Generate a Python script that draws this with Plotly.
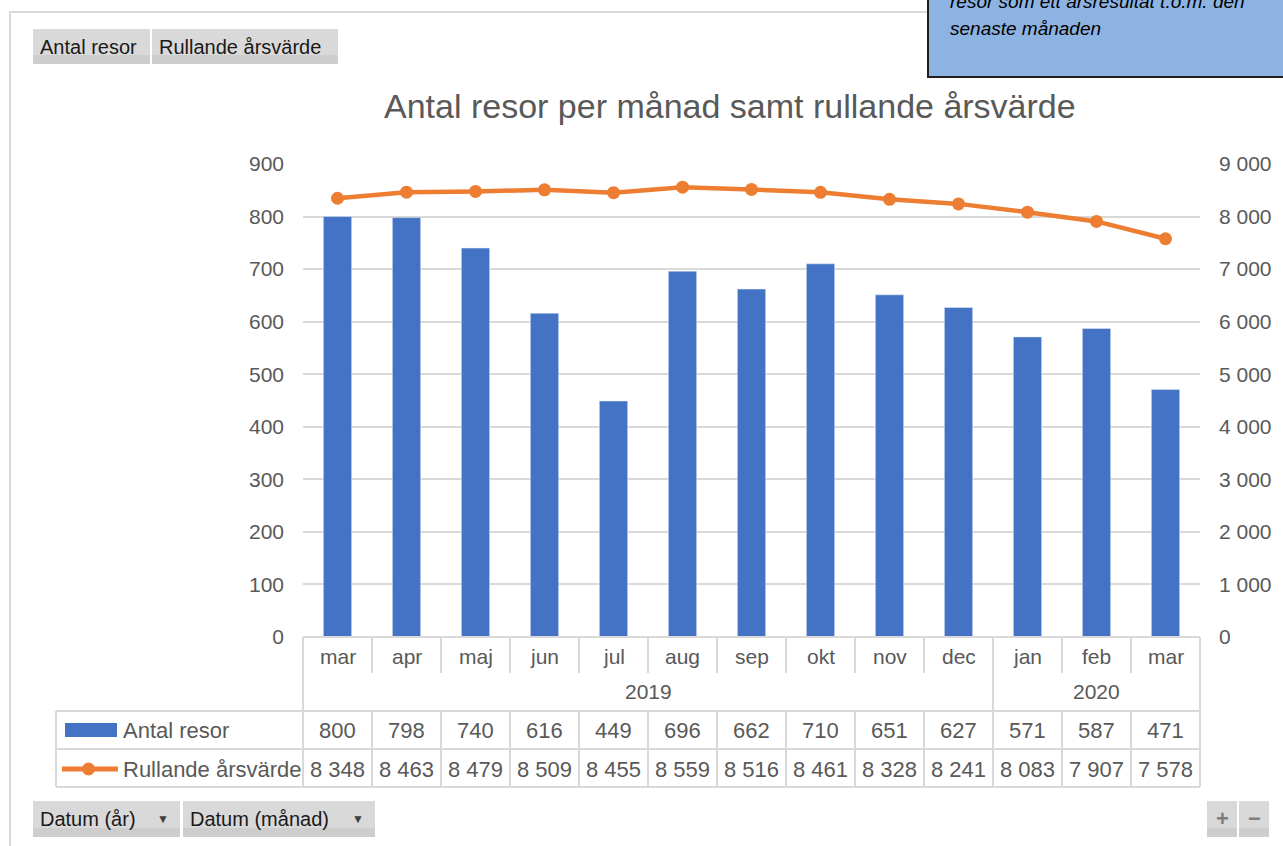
import plotly.graph_objects as go

# data
year_labels = ["2019", "2020"]
year_counts = [10, 3]
months = ["mar", "apr", "maj", "jun", "jul", "aug", "sep", "okt", "nov", "dec", "jan", "feb", "mar"]
antal_resor = [800, 798, 740, 616, 449, 696, 662, 710, 651, 627, 571, 587, 471]
rullande = [8348, 8463, 8479, 8509, 8455, 8559, 8516, 8461, 8328, 8241, 8083, 7907, 7578]

W, H = 1283, 846
L, R, T, B = 303, 1200, 164, 637   # plot area in pixels
FONT = "Liberation Sans"
GREY = "#595959"
LINE = "#d9d9d9"


def px(x):
    return (x - L) / (R - L)


def py(y):
    return (B - y) / (B - T)


def sp(v):
    return f"{v:,}".replace(",", " ")


n = len(months)
xs = list(range(n))

fig = go.Figure()
fig.add_trace(go.Bar(x=xs, y=antal_resor, name="Antal resor", marker_color="#4472C4",
                     width=0.41, yaxis="y"))
fig.add_trace(go.Scatter(x=xs, y=rullande, name="Rullande årsvärde", yaxis="y2",
                         mode="lines+markers", line=dict(color="#ED7D31", width=4.5),
                         marker=dict(size=13, color="#ED7D31")))

shapes = []
ann = []


def hline(x0, x1, y, color=LINE, w=2):
    shapes.append(dict(type="line", xref="paper", yref="paper", x0=px(x0), x1=px(x1),
                       y0=py(y), y1=py(y), line=dict(color=color, width=w)))


def vline(x, y0, y1, color=LINE, w=2):
    shapes.append(dict(type="line", xref="paper", yref="paper", x0=x, x1=x,
                       y0=py(y0), y1=py(y1), line=dict(color=color, width=w)))


def rect(x0, y0, x1, y1, fill, line_color=None, w=0, layer="above"):
    shapes.append(dict(type="rect", xref="paper", yref="paper", x0=px(x0), x1=px(x1),
                       y0=py(y0), y1=py(y1), fillcolor=fill, layer=layer,
                       line=dict(color=line_color or fill, width=w)))


def text(x, y, s, size=22, color=GREY, xanchor="center", italic=False, font=FONT):
    ann.append(dict(xref="paper", yref="paper", x=px(x), y=py(y), text=s, showarrow=False,
                    xanchor=xanchor, yanchor="middle",
                    font=dict(family=font, size=size, color=color,
                              style="italic" if italic else "normal")))


# outer chart frame
rect(10, 12, 1300, 870, "rgba(0,0,0,0)", LINE, 2, layer="below")

# data table below the chart
hline(L, R, B)
hline(56, R, 711)
hline(56, R, 749)
hline(56, R, 787)
vline(px(56), 711, 787)
bounds = [0]
for c in year_counts:
    bounds.append(bounds[-1] + c)
for k in range(n + 1):
    xp = k / n
    if k in bounds:
        vline(xp, B, 787)
    else:
        vline(xp, B, 673)
        vline(xp, 711, 787)

for i, m in enumerate(months):
    ann.append(dict(xref="x", yref="paper", x=i, y=py(656), text=m, showarrow=False,
                    yanchor="middle", font=dict(family=FONT, size=21, color=GREY)))
    ann.append(dict(xref="x", yref="paper", x=i, y=py(730), text=sp(antal_resor[i]),
                    showarrow=False, yanchor="middle", font=dict(family=FONT, size=22, color=GREY)))
    ann.append(dict(xref="x", yref="paper", x=i, y=py(769), text=sp(rullande[i]),
                    showarrow=False, yanchor="middle", font=dict(family=FONT, size=22, color=GREY)))
for j, yl in enumerate(year_labels):
    mid = (bounds[j] + bounds[j + 1]) / 2 - 0.5
    ann.append(dict(xref="x", yref="paper", x=mid, y=py(691), text=yl, showarrow=False,
                    yanchor="middle", font=dict(family=FONT, size=21, color=GREY)))

# legend keys inside the table
rect(65, 723, 117, 737, "#4472C4")
hline(62, 118, 769, "#ED7D31", 5)
shapes.append(dict(type="circle", xref="paper", yref="paper", x0=px(82), x1=px(95),
                   y0=py(762.5), y1=py(775.5), fillcolor="#ED7D31", line=dict(color="#ED7D31", width=0)))
text(121, 730, "Antal resor", xanchor="left")
text(121, 769, "Rullande årsvärde", xanchor="left")

# title
text(730, 106, "Antal resor per månad samt rullande årsvärde", size=34)

# pivot field buttons
BTN = "#d9d9d9"
for x0, x1, lab in [(33, 150, "Antal resor"), (152, 338, "Rullande årsvärde")]:
    rect(x0, 29, x1, 64, BTN)
    rect(x0, 55, x1, 64, "#cdcdcd")
    text(x0 + 5, 47, lab, size=20, color="#1a1a1a", xanchor="left")
for x0, x1, lab in [(33, 180, "Datum (år)"), (183, 375, "Datum (månad)")]:
    rect(x0, 801, x1, 837, BTN)
    rect(x0, 828, x1, 837, "#cdcdcd")
    text(x0 + 5, 819, lab, size=20, color="#1a1a1a", xanchor="left")
    text(x1 - 17, 819, "▼", size=12, color="#404040")
for x0, x1, lab in [(1207, 1237, "+"), (1239, 1269, "−")]:
    rect(x0, 801, x1, 837, BTN)
    rect(x0, 828, x1, 837, "#cdcdcd")
    text((x0 + x1) / 2, 818, "<b>" + lab + "</b>", size=22, color="#808080")

# note box in the top right corner (partly cut off, as in the original)
rect(928, -40, 1295, 77, "#8DB3E2", "#1f1f1f", 2)
text(948, 1, "resor som ett årsresultat t.o.m. den", size=19, color="#000000",
     xanchor="left", italic=True)
text(948, 28, "senaste månaden", size=19, color="#000000", xanchor="left", italic=True)

fig.update_layout(
    width=W, height=H,
    margin=dict(l=L, r=W - R, t=T, b=H - B, pad=0),
    paper_bgcolor="white", plot_bgcolor="white",
    showlegend=False,
    separators=", ",
    bargap=0.6,
    xaxis=dict(range=[-0.5, n - 0.5], showticklabels=False, showgrid=False, zeroline=False,
               showline=False, ticks=""),
    yaxis=dict(range=[0, 900], dtick=100, showgrid=True, gridcolor=LINE, gridwidth=1.5,
               zeroline=False, showline=False, ticks="", ticklabelstandoff=18,
               tickfont=dict(family=FONT, size=21, color=GREY)),
    yaxis2=dict(range=[0, 9000], dtick=1000, overlaying="y", side="right", showgrid=False,
                zeroline=False, showline=False, ticks="", tickformat=",d", ticklabelstandoff=18,
                tickfont=dict(family=FONT, size=21, color=GREY)),
    shapes=shapes,
    annotations=ann,
)

fig.write_html("out.html", config={"displayModeBar": False},
               post_script="document.body.style.margin='0';")
